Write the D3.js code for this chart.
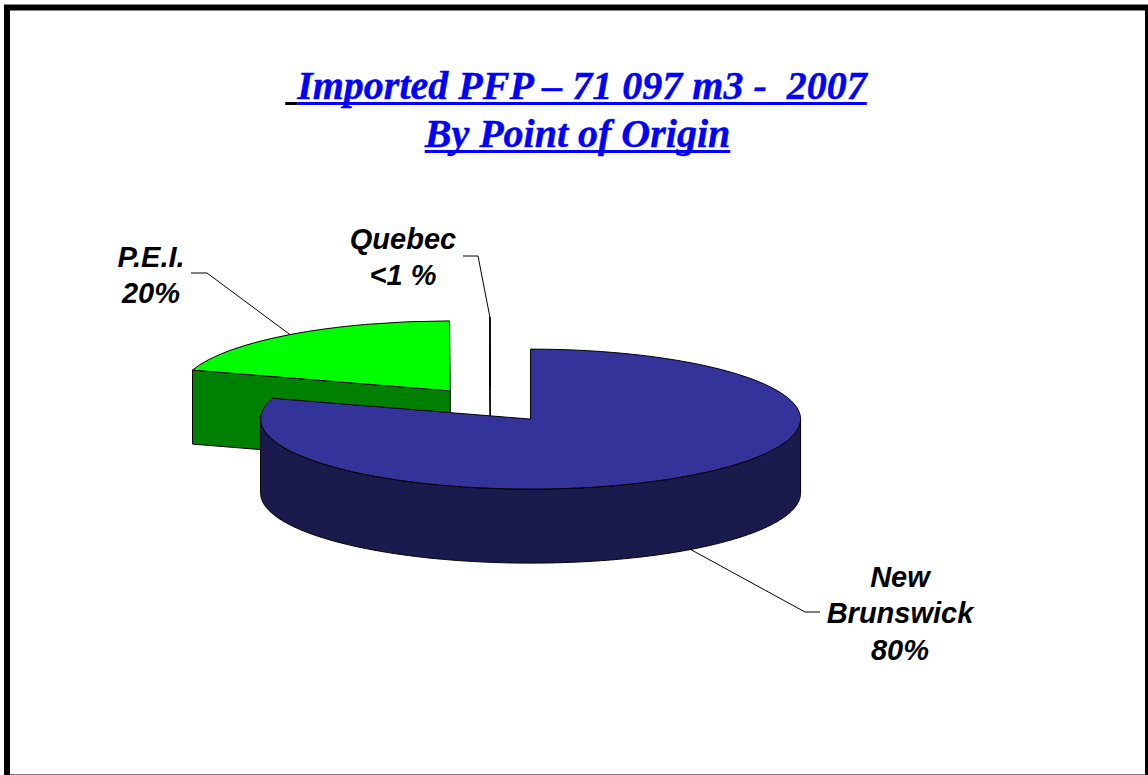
<!DOCTYPE html>
<html>
<head>
<meta charset="utf-8">
<script src="https://cdn.jsdelivr.net/npm/d3@7"></script>
<style>
html,body{margin:0;padding:0;background:#fff;overflow:hidden}
svg{display:block}
</style>
</head>
<body>
<div class="chart"></div>
<script>
// values
const categories=['New Brunswick','P.E.I.','Quebec']
const shares=[79.8,20.15,0.05]
const labelLines=[['New','Brunswick','80%'],['P.E.I.','20%'],['Quebec','<1 %']]
const titleLines=['Imported PFP \u2013 71 097 m3 -  2007','By Point of Origin']
const topColors=['#333399','#00ff00','#ffffff']
const sideColors=['#1a1a4d','#008000','#ffffff']

let w=1148
let h=775
let cx=490.5,cy=405    // pie centre before the slices are pulled apart
let rx=270,ry=70       // tilted ellipse
let depth=74
let explode=67.6
let squash=ry/rx

let svg=d3.select('.chart').append('svg').attr('width',w).attr('height',h)

// frame
svg.append('rect').attr('x',7).attr('y',7.5).attr('width',1141).attr('height',770)
  .attr('fill','#fff').attr('stroke','#000').attr('stroke-width',6)

// title
let titleBase=[99,147]
let titleMid=[582,577.5]
titleLines.forEach((t,i)=>{
  let txt=svg.append('text').text(t).attr('x',titleMid[i]).attr('y',titleBase[i])
    .attr('text-anchor','middle').attr('xml:space','preserve')
    .style('white-space','pre')
    .attr('font-family','"Liberation Serif"').attr('font-weight','bold').attr('font-style','italic')
    .attr('font-size',40).attr('fill','#0000ff').attr('stroke','#0000ff').attr('stroke-width',0.4)
  let len=txt.node().getComputedTextLength()
  let x0=titleMid[i]-len/2
  svg.append('rect').attr('x',x0).attr('y',titleBase[i]+3).attr('width',len).attr('height',3).attr('fill','#0000ff')
  if(i==0) svg.append('rect').attr('x',x0-12).attr('y',titleBase[i]+3).attr('width',12).attr('height',3).attr('fill','#000')
})

let pie=d3.pie().sort(null)
let arcs=pie(shares).map((a,i)=>{
  let mid=(a.startAngle+a.endAngle)/2
  return {
    i:i,
    start:a.startAngle,
    end:a.endAngle,
    mid:mid,
    x:cx+explode*Math.sin(mid),
    y:cy-explode*Math.cos(mid)*squash
  }
})

let rim=(a,ang)=>[a.x+rx*Math.sin(ang),a.y-ry*Math.cos(ang)]
let poly=d3.line()
let arcGen=d3.arc().innerRadius(0).outerRadius(rx)

// draw from back to front
;[2,1,0].forEach(k=>{
  let a=arcs[k]
  let g=svg.append('g').attr('class','slice')
  // cut face, the one looking at the viewer
  if(a.start>Math.PI){
    let p=rim(a,a.start)
    g.append('path').attr('d',poly([[a.x,a.y],p,[p[0],p[1]+depth],[a.x,a.y+depth]])+'Z')
      .attr('fill',sideColors[k]).attr('stroke','#000').attr('stroke-width',1)
  }
  // round wall, only the front half of the ellipse shows
  let from=Math.max(a.start,Math.PI/2)
  let to=Math.min(a.end,Math.PI*1.5)
  if(to>from){
    let angs=d3.range(from,to,0.01).concat([to])
    let upper=angs.map(t=>rim(a,t))
    let lower=angs.slice().reverse().map(t=>{let p=rim(a,t);return [p[0],p[1]+depth]})
    g.append('path').attr('d',poly(upper.concat(lower))+'Z')
      .attr('fill',sideColors[k]).attr('stroke','#000').attr('stroke-width',1)
  }
  // top face
  g.append('path')
    .attr('d',arcGen({startAngle:a.start,endAngle:a.end}))
    .attr('transform','translate('+a.x+','+a.y+') scale(1,'+squash+')')
    .attr('fill',topColors[k]).attr('stroke','#000').attr('stroke-width',1)
    .style('vector-effect','non-scaling-stroke')
})

// leader lines run from the slice rim to a short elbow next to the label
let elbows=[[805,612,820],[207,273,191],[478,256,463]]
arcs.forEach((a,i)=>{
  let p=rim(a,a.mid)
  if(i==0) p[1]+=depth
  let e=elbows[i]
  svg.append('path').attr('d',poly([p,[e[0],e[1]],[e[2],e[1]]]))
    .attr('fill','none').attr('stroke','#000').attr('stroke-width',1)
})

// labels
let labelPos=[[900,587],[151,267],[403,249]]
labelLines.forEach((lines,i)=>{
  lines.forEach((t,j)=>{
    svg.append('text').text(t)
      .attr('x',labelPos[i][0]).attr('y',labelPos[i][1]+j*36.3)
      .attr('text-anchor','middle')
      .attr('font-family','"Liberation Sans"').attr('font-weight','bold').attr('font-style','italic')
      .attr('font-size',29).attr('fill','#000')
  })
})
</script>
</body>
</html>
